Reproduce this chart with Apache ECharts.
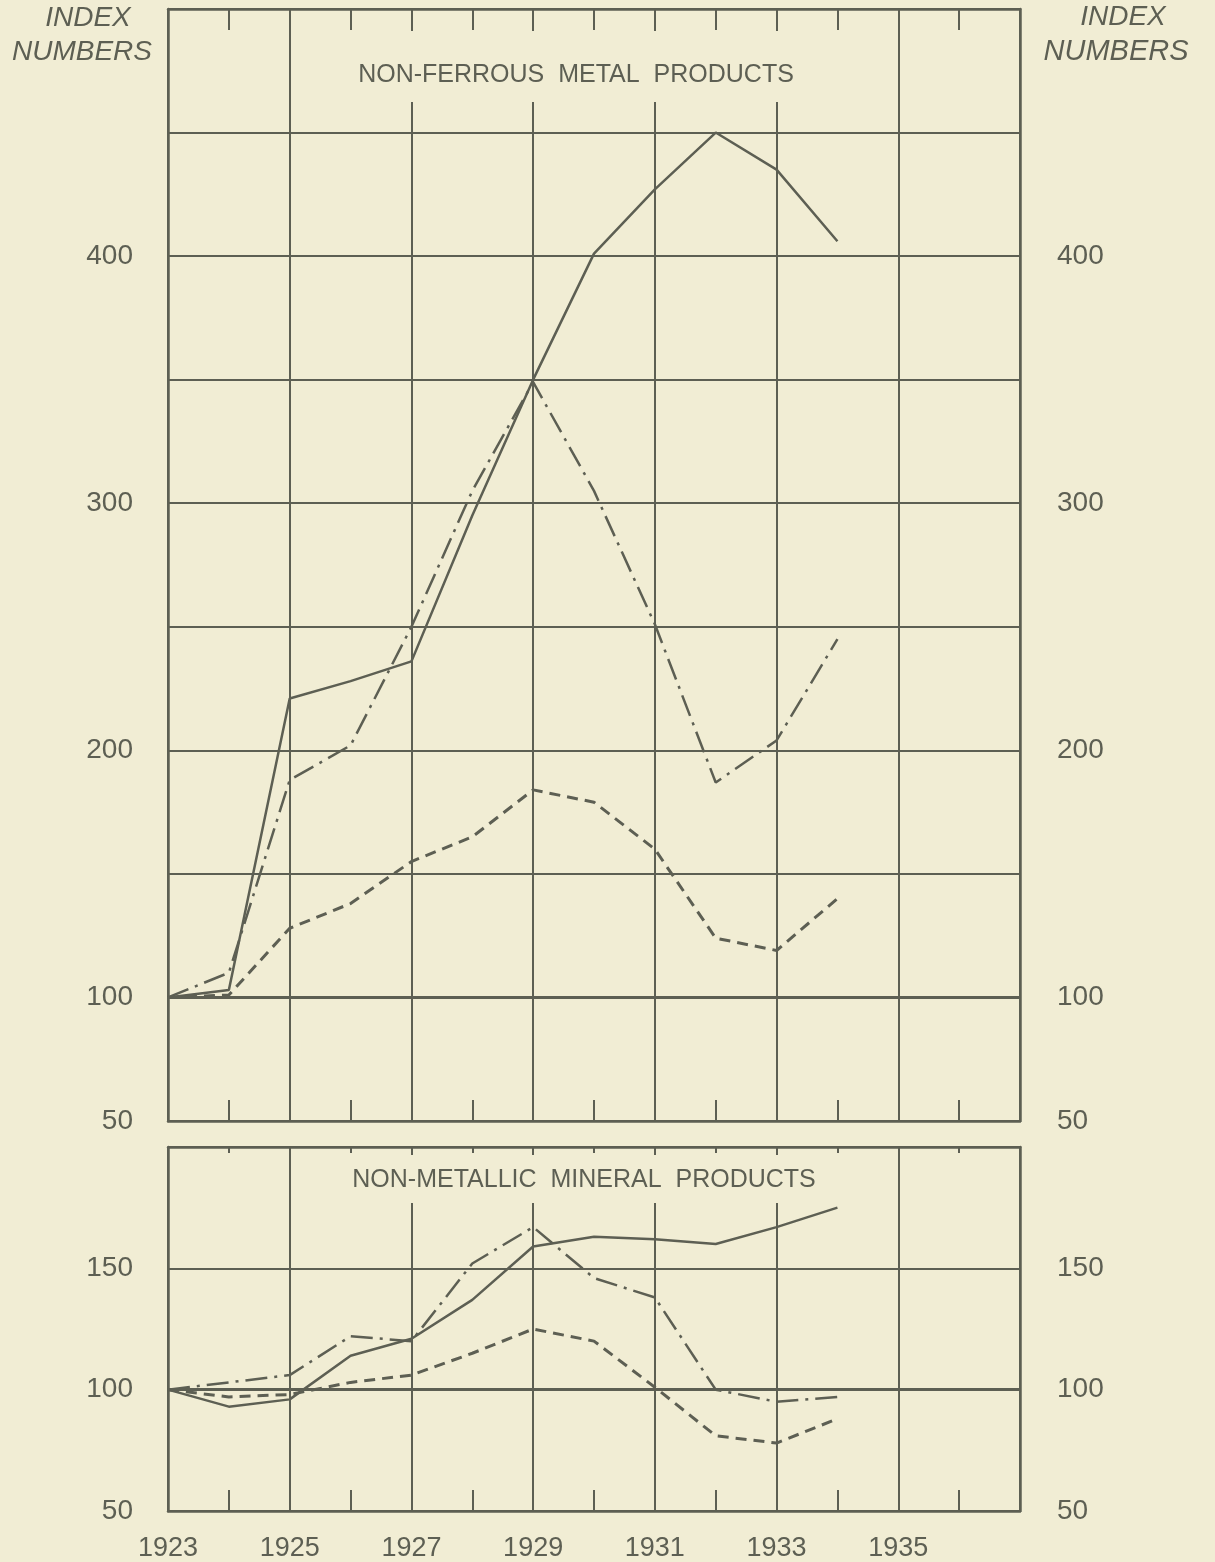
<!DOCTYPE html>
<html lang="en">
<head>
  <meta charset="UTF-8">
  <title>Non-ferrous metal and non-metallic mineral products</title>
  <script src="https://cdn.jsdelivr.net/npm/echarts@6/dist/echarts.min.js"></script>
  <style>
    html, body { margin: 0; padding: 0; background: #f1edd4; }
    #main { width: 1215px; height: 1562px; }
  </style>
</head>
<body>
  <div id="main"></div>
  <script>
    // 数据 (index numbers, 1923 = 100)
    var years = [1923, 1924, 1925, 1926, 1927, 1928, 1929, 1930, 1931, 1932, 1933, 1934];

    var metalSolid   = [100, 103, 221, 228, 236, 295, 350, 401, 427, 450, 435, 406];
    var metalDashDot = [100, 110, 188, 202, 250, 305, 349, 305, 251, 187, 204, 245];
    var metalDashed  = [100, 101, 128, 138, 155, 165, 184, 179, 160, 124, 119, 140];

    var mineralSolid   = [100, 93, 96, 114, 121, 137, 159, 163, 162, 160, 167, 175];
    var mineralDashDot = [100, 103, 106, 122, 120, 152, 167, 146, 138, 100, 95, 97];
    var mineralDashed  = [100, 97, 98, 103, 106, 115, 125, 120, 101, 81, 78, 88];

    var yearLabels = [1923, 1925, 1927, 1929, 1931, 1933, 1935];
    var metalLabels = [50, 100, 200, 300, 400];
    var mineralLabels = [50, 100, 150];

    var ink = '#5d5f53';
    var bg = '#f1edd4';
    var font = '"Liberation Sans", "DejaVu Sans", sans-serif';

    function pairs(values) {
      return years.map(function (y, i) { return [y, values[i]]; });
    }

    // x 轴
    function xAx(grid, position, tickLen, opts) {
      var ax = {
        type: 'value', gridIndex: grid, position: position,
        min: 1923, max: 1937, interval: 2,
        axisLine: { show: true, lineStyle: { color: ink, width: 2.5 } },
        axisTick: { show: false, inside: true, length: tickLen, lineStyle: { color: ink, width: 2 } },
        minorTick: { show: true, splitNumber: 2, length: tickLen, lineStyle: { color: ink, width: 2 } },
        axisLabel: { show: false },
        splitLine: { show: false }
      };
      for (var k in opts) ax[k] = opts[k];
      return ax;
    }

    // y 轴
    function yAx(grid, position, max, labels, opts) {
      var ax = {
        type: 'value', gridIndex: grid, position: position,
        min: 50, max: max, interval: 50,
        axisLine: { show: true, lineStyle: { color: ink, width: 2.5 } },
        axisTick: { show: false },
        axisLabel: {
          margin: position === 'left' ? 35 : 37,
          color: ink, fontSize: 28, fontFamily: font,
          formatter: function (v) { return labels.indexOf(v) >= 0 ? String(v) : ''; }
        },
        splitLine: { show: false }
      };
      for (var k in opts) ax[k] = opts[k];
      return ax;
    }

    var gridLine = { show: true, lineStyle: { color: ink, width: 2 } };

    function line(data, xi, yi, type, width, base) {
      var s = {
        type: 'line', xAxisIndex: xi, yAxisIndex: yi,
        data: pairs(data), symbol: 'none', z: 3,
        lineStyle: { color: ink, width: width, type: type }
      };
      if (base) {
        s.markLine = {
          silent: true, symbol: 'none', label: { show: false },
          lineStyle: { color: ink, width: 3, type: 'solid' },
          data: [{ yAxis: 100 }]
        };
      }
      return s;
    }

    var dashDot = [22, 7, 3, 7];
    var dashed = [11, 7];

    var myChart = echarts.init(document.getElementById('main'));

    var option = {
      backgroundColor: bg,
      animation: false,
      grid: [
        { left: 168, right: 195, top: 9, height: 1112 },
        { left: 168, right: 195, top: 1147, height: 366 }
      ],
      xAxis: [
        xAx(0, 'bottom', 21, { splitLine: gridLine }),
        xAx(0, 'top', 21, {}),
        xAx(1, 'bottom', 21, {
          splitLine: gridLine,
          axisLabel: {
            show: true, margin: 24, color: ink, fontSize: 27, fontFamily: font,
            formatter: function (v) { return yearLabels.indexOf(v) >= 0 ? String(v) : ''; }
          }
        }),
        xAx(1, 'top', 6, { axisTick: { show: true, inside: true, length: 6, lineStyle: { color: ink, width: 2 } } })
      ],
      yAxis: [
        yAx(0, 'left', 500, metalLabels, { splitLine: gridLine }),
        yAx(0, 'right', 500, metalLabels, {}),
        yAx(1, 'left', 200, mineralLabels, { splitLine: gridLine }),
        yAx(1, 'right', 200, mineralLabels, {})
      ],
      series: [
        line(metalSolid, 0, 0, 'solid', 2.5, true),
        line(metalDashDot, 0, 0, dashDot, 2.5),
        line(metalDashed, 0, 0, dashed, 3),
        line(mineralSolid, 2, 2, 'solid', 2.5, true),
        line(mineralDashDot, 2, 2, dashDot, 2.5),
        line(mineralDashed, 2, 2, dashed, 3)
      ],
      graphic: [
        { type: 'rect', z: 10, shape: { x: 330, y: 31, width: 500, height: 71 }, style: { fill: bg } },
        { type: 'rect', z: 10, shape: { x: 340, y: 1155, width: 490, height: 48 }, style: { fill: bg } },
        { type: 'text', z: 11, style: { text: 'NON-FERROUS  METAL  PRODUCTS', x: 576, y: 75, align: 'center', verticalAlign: 'middle', font: '25px ' + font, fill: ink } },
        { type: 'text', z: 11, style: { text: 'NON-METALLIC  MINERAL  PRODUCTS', x: 584, y: 1180, align: 'center', verticalAlign: 'middle', font: '25px ' + font, fill: ink } },
        { type: 'text', z: 11, style: { text: 'INDEX', x: 88, y: 18, align: 'center', verticalAlign: 'middle', font: 'italic 28px ' + font, fill: ink } },
        { type: 'text', z: 11, style: { text: 'NUMBERS', x: 82, y: 52, align: 'center', verticalAlign: 'middle', font: 'italic 28px ' + font, fill: ink } },
        { type: 'text', z: 11, style: { text: 'INDEX', x: 1123, y: 17, align: 'center', verticalAlign: 'middle', font: 'italic 28px ' + font, fill: ink } },
        { type: 'text', z: 11, style: { text: 'NUMBERS', x: 1116, y: 52, align: 'center', verticalAlign: 'middle', font: 'italic 29px ' + font, fill: ink } }
      ]
    };

    myChart.setOption(option);
  </script>
</body>
</html>
